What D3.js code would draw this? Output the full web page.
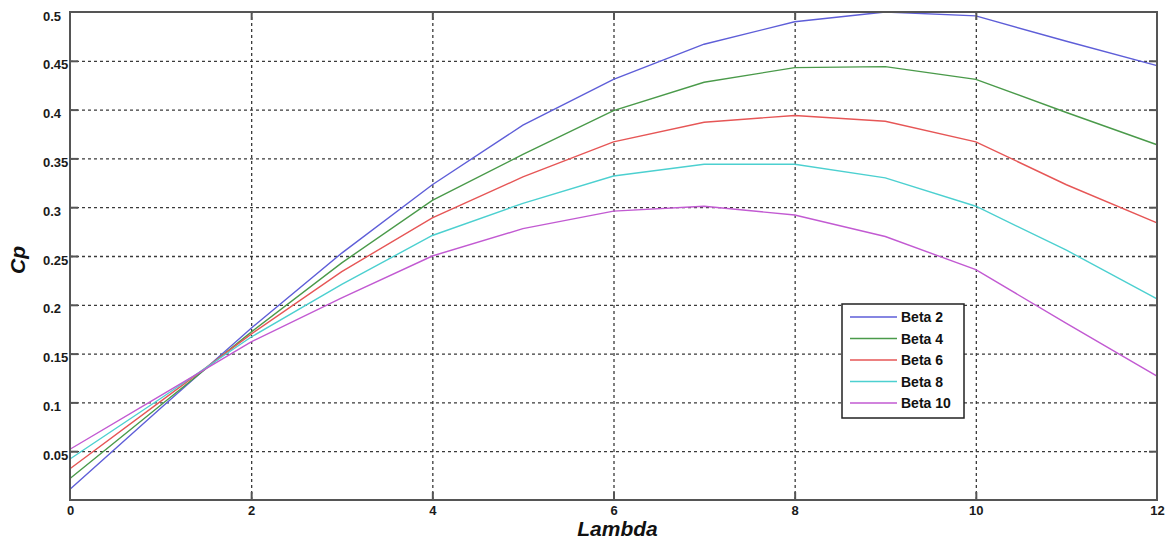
<!DOCTYPE html>
<html>
<head>
<meta charset="utf-8">
<script src="https://cdn.jsdelivr.net/npm/d3@7"></script>
<style>
  body { margin: 0; background: #fff; }
  svg { display: block; font-family: "Liberation Sans", Arial, sans-serif; }
  .grid line { stroke: #3a3a3a; stroke-width: 1.3; stroke-dasharray: 3,3; }
  .grid path { display: none; }
  .tickax line { stroke: #555; stroke-width: 2; }
  .tickax path { display: none; }
  .tickax text { font-size: 13px; font-weight: bold; fill: #1a1a1a; }
</style>
</head>
<body>
<div id="chart"></div>
<script>
const lambdas = [0, 1, 2, 3, 4, 5, 6, 7, 8, 9, 10, 11, 12];
const beta2  = [0.011, 0.094, 0.176, 0.253, 0.323, 0.384, 0.431, 0.467, 0.490, 0.500, 0.496, 0.470, 0.445];
const beta4  = [0.022, 0.097, 0.172, 0.243, 0.307, 0.354, 0.399, 0.428, 0.443, 0.444, 0.431, 0.397, 0.364];
const beta6  = [0.032, 0.101, 0.170, 0.234, 0.289, 0.331, 0.367, 0.387, 0.394, 0.388, 0.367, 0.323, 0.284];
const beta8  = [0.042, 0.104, 0.167, 0.221, 0.271, 0.304, 0.332, 0.344, 0.344, 0.330, 0.301, 0.256, 0.206];
const beta10 = [0.052, 0.107, 0.162, 0.207, 0.250, 0.278, 0.296, 0.301, 0.292, 0.270, 0.236, 0.181, 0.127];

const seriesNames = ["Beta 2", "Beta 4", "Beta 6", "Beta 8", "Beta 10"];
const seriesValues = [beta2, beta4, beta6, beta8, beta10];
const colors = ["#5e5ed8", "#4a9a4a", "#e65656", "#4cd0d0", "#c25ad2"];

const xTicks = [0, 2, 4, 6, 8, 10, 12];
const yTicks = [0.05, 0.1, 0.15, 0.2, 0.25, 0.3, 0.35, 0.4, 0.45, 0.5];

const W = 1168, H = 542;
const margin = { top: 12, right: 11, bottom: 42, left: 70 };
const width = W - margin.left - margin.right;
const height = H - margin.top - margin.bottom;

const svg = d3.select("#chart").append("svg")
  .attr("width", W).attr("height", H)
  .append("g")
  .attr("transform", `translate(${margin.left},${margin.top})`);

const x = d3.scaleLinear().domain([0, 12]).range([0, width]);
const y = d3.scaleLinear().domain([0, 0.5]).range([height, 0]);

// dotted grid
svg.append("g").attr("class", "grid")
  .call(d3.axisLeft(y).tickValues(yTicks.filter(v => v < 0.5)).tickSize(-width).tickFormat(""));
svg.append("g").attr("class", "grid")
  .attr("transform", `translate(0,${height})`)
  .call(d3.axisBottom(x).tickValues(xTicks.filter(v => v > 0 && v < 12)).tickSize(-height).tickFormat(""));

// curves
const line = d3.line()
  .x((d, i) => x(lambdas[i]))
  .y(d => y(d));

svg.selectAll(".curve")
  .data(seriesValues)
  .join("path")
  .attr("class", "curve")
  .attr("fill", "none")
  .attr("stroke", (d, i) => colors[i])
  .attr("stroke-width", 1.4)
  .attr("d", line);

// inward ticks + labels
const yAx = svg.append("g").attr("class", "tickax")
  .call(d3.axisLeft(y).tickValues(yTicks).tickSizeInner(-8).tickSizeOuter(0).tickFormat(d3.format(".2~f")));
yAx.selectAll("text").attr("x", -27).attr("text-anchor", "start").attr("dy", "0.62em");
yAx.selectAll(".tick").filter(d => d === 0.5).select("line").remove();

svg.append("g").attr("class", "tickax")
  .attr("transform", `translate(${width},0)`)
  .call(d3.axisRight(y).tickValues(yTicks.filter(v => v < 0.5)).tickSizeInner(-8).tickFormat(""));

const xAx = svg.append("g").attr("class", "tickax")
  .attr("transform", `translate(0,${height})`)
  .call(d3.axisBottom(x).tickValues(xTicks).tickSizeInner(-8).tickSizeOuter(0).tickPadding(6));
xAx.selectAll(".tick").filter(d => d === 0 || d === 12).select("line").remove();

svg.append("g").attr("class", "tickax")
  .call(d3.axisTop(x).tickValues(xTicks.filter(v => v > 0 && v < 12)).tickSizeInner(-8).tickFormat(""));

// frame
svg.append("rect")
  .attr("x", 0).attr("y", 0)
  .attr("width", width).attr("height", height)
  .attr("fill", "none")
  .attr("stroke", "#555")
  .attr("stroke-width", 2);

// axis titles
svg.append("text")
  .attr("x", x(6) + 4)
  .attr("y", height + 36)
  .attr("text-anchor", "middle")
  .style("font-size", "21px")
  .style("font-weight", "bold")
  .style("font-style", "italic")
  .attr("fill", "#111")
  .text("Lambda");

svg.append("text")
  .attr("transform", `translate(${-margin.left + 25},${y(0.25) + 4}) rotate(-90)`)
  .attr("text-anchor", "middle")
  .style("font-size", "21px")
  .style("font-weight", "bold")
  .style("font-style", "italic")
  .attr("fill", "#111")
  .text("Cp");

// legend
const lg = svg.append("g")
  .attr("transform", `translate(${842 - margin.left},${304 - margin.top})`);
lg.append("rect")
  .attr("width", 122).attr("height", 114)
  .attr("fill", "#fff")
  .attr("stroke", "#222")
  .attr("stroke-width", 1.5);
const rows = lg.selectAll(".row")
  .data(seriesNames)
  .join("g")
  .attr("class", "row")
  .attr("transform", (d, i) => `translate(0,${13 + i * 21.5})`);
rows.append("line")
  .attr("x1", 8).attr("x2", 55)
  .attr("stroke", (d, i) => colors[i])
  .attr("stroke-width", 1.5);
rows.append("text")
  .attr("x", 59)
  .attr("dy", "0.36em")
  .style("font-size", "14px")
  .style("font-weight", "bold")
  .attr("fill", "#111")
  .text(d => d);
</script>
</body>
</html>
